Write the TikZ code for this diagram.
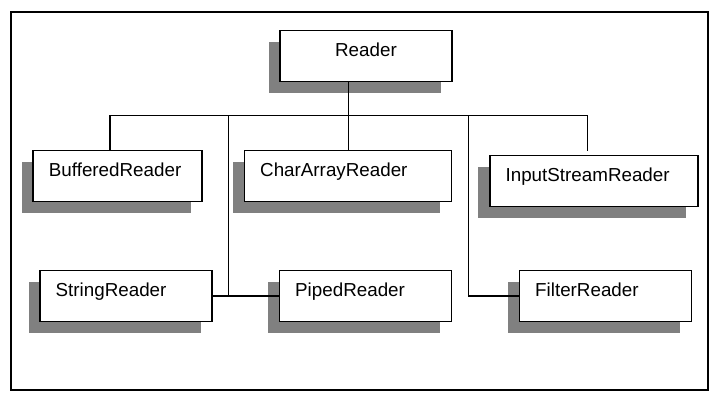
\documentclass[tikz,border=0pt]{standalone}
\usepackage{fontspec}
\setmainfont{Liberation Sans}
\usetikzlibrary{shadows}
\definecolor{shadowgray}{RGB}{128,128,128}
\begin{document}
\begin{tikzpicture}[x=1pt,y=-1pt,
  classbox/.style={draw=black, line width=1.6pt, fill=white, rectangle,
    inner ysep=0pt, inner xsep=15.7pt, text height=25.5pt, text depth=25.5pt,
    align=left, font=\fontsize{18.8}{22}\selectfont,
    drop shadow={shadow xshift=-11.5pt, shadow yshift=-11.5pt, fill=shadowgray, opacity=1}},
  wire/.style={line width=1.3pt, line cap=rect},
  frame/.style={draw=black, line width=1.3pt}]
\useasboundingbox (0,0) rectangle (722,402);
\draw[frame] (11,12) rectangle (708,390);
% boxes (centres in pixel coordinates)
\node[classbox, text width=172pt-31.4pt, align=center] (reader) at (366,56) {Reader};
\node[classbox, text width=169pt-31.4pt] (buf) at (117.7,176) {BufferedReader};
\node[classbox, text width=207pt-31.4pt] (car) at (348,176) {CharArrayReader};
\node[classbox, text width=208pt-31.4pt] (isr) at (593.9,181) {InputStreamReader};
\node[classbox, text width=172pt-31.4pt] (str) at (126,296) {StringReader};
\node[classbox, text width=172pt-31.4pt] (pip) at (365.5,296) {PipedReader};
\node[classbox, text width=172pt-31.4pt] (fil) at (605.5,296) {FilterReader};
% connector coordinates
\coordinate (busL) at (110,115.7);
\coordinate (busR) at (587.7,115.7);
\coordinate (tap) at (348.3,115.7);
\coordinate (dropS) at (228.7,115.7);
\coordinate (dropF) at (468.3,115.7);
\coordinate (isrEnd) at (587.7,150);
% connectors
\draw[wire] (busL) -- (busR);
\draw[wire] (tap |- reader.south) -- (tap |- car.north);
\draw[wire] (busL) -- (busL |- buf.north);
\draw[wire] (busR) -- (isrEnd);
\draw[wire] (dropS) -- (dropS |- str.east);
\draw[wire] (str.east) -- (pip.west);
\draw[wire] (dropF) -- (dropF |- fil.west) -- (fil.west);
\end{tikzpicture}
\end{document}
